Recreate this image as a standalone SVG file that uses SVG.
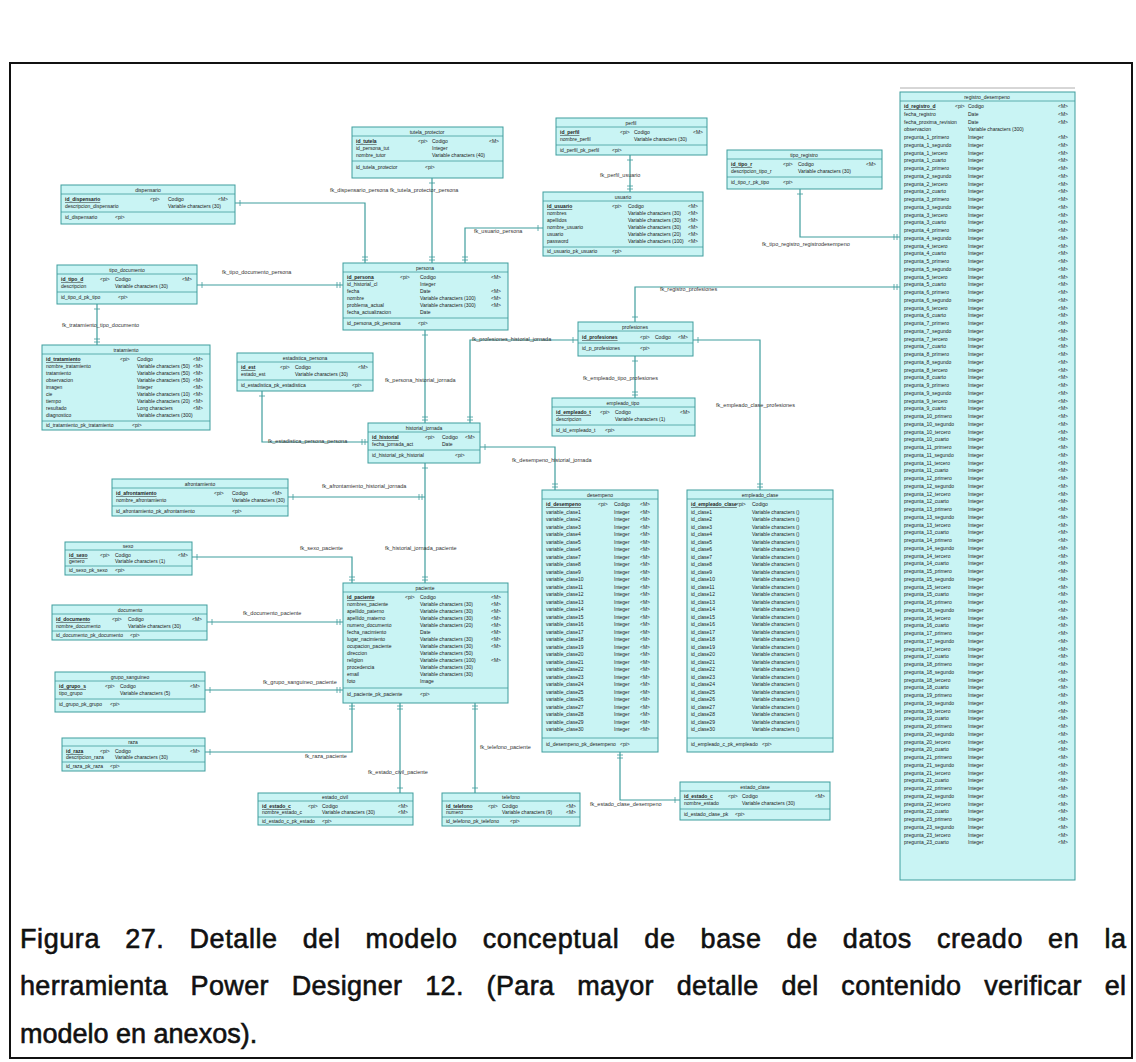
<svg xmlns="http://www.w3.org/2000/svg" width="1136" height="1062" viewBox="0 0 1136 1062">
<defs>
<marker id="te" markerUnits="userSpaceOnUse" markerWidth="12" markerHeight="12" refX="0" refY="0" viewBox="-10 -6 12 12" orient="auto" overflow="visible"><path d="M-6,-3 V3 M-3,-3 V3" fill="none" stroke="#3f9d9d" stroke-width="0.8"/></marker>
<marker id="ts" markerUnits="userSpaceOnUse" markerWidth="12" markerHeight="12" refX="0" refY="0" viewBox="-10 -6 12 12" orient="auto-start-reverse" overflow="visible"><path d="M-5,-3 V3" fill="none" stroke="#3f9d9d" stroke-width="0.8"/></marker>
</defs>
<style>
.e{fill:#c9f4f4;stroke:#3f9d9d;stroke-width:1}
.s{stroke:#3f9d9d;stroke-width:0.8}
.t{font-family:"Liberation Sans",sans-serif;font-size:5px;fill:#222;text-anchor:middle}
.r{font-family:"Liberation Sans",sans-serif;font-size:5px;fill:#222}
.p{font-family:"Liberation Sans",sans-serif;font-size:5px;fill:#222;text-decoration:underline;font-weight:bold}
.c path{fill:none;stroke:#3f9d9d;stroke-width:1.2;marker-start:url(#ts);marker-end:url(#te)}
.l{font-family:"Liberation Sans",sans-serif;font-size:5.5px;fill:#333}
.cap{font-family:"Liberation Sans",Arial,sans-serif;font-size:27px;fill:#111;stroke:#111;stroke-width:0.6}
</style>
<rect width="1136" height="1062" fill="#fff"/>
<rect x="10" y="63" width="1122" height="995" fill="none" stroke="#111" stroke-width="2"/>

<g class="c" id="connectors">
<path d="M432,178 V263"/>
<path d="M235,203 H365 V263"/>
<path d="M630,155 V192"/>
<path d="M543,228 H465 V263"/>
<path d="M800,189 V237 H900"/>
<path d="M197,285 H343"/>
<path d="M97,304 V345"/>
<path d="M425,330 V423"/>
<path d="M578,340 H470 V423"/>
<path d="M635,322 V287 H900"/>
<path d="M635,356 V398"/>
<path d="M693,340 H760 V490"/>
<path d="M262,391 V442 H368"/>
<path d="M288,497 H425"/>
<path d="M425,463 V583"/>
<path d="M480,447 H555 V490"/>
<path d="M192,557 H352 V583"/>
<path d="M207,622 H343"/>
<path d="M205,690 H343"/>
<path d="M205,752 H352 V703"/>
<path d="M400,793 V703"/>
<path d="M475,793 V703"/>
<path d="M680,800 H620 V752"/>
<text class="l" x="330" y="192">fk_dispensario_persona fk_tutela_protector_persona</text>
<text class="l" x="600" y="177">fk_perfil_usuario</text>
<text class="l" x="474" y="233">fk_usuario_persona</text>
<text class="l" x="762" y="246">fk_tipo_registro_registrodesempeno</text>
<text class="l" x="222" y="274">fk_tipo_documento_persona</text>
<text class="l" x="62" y="327">fk_tratamiento_tipo_documento</text>
<text class="l" x="385" y="382">fk_persona_historial_jornada</text>
<text class="l" x="472" y="341">fk_profesiones_historial_jornada</text>
<text class="l" x="660" y="291">fk_registro_profesiones</text>
<text class="l" x="583" y="380">fk_empleado_tipo_profesiones</text>
<text class="l" x="716" y="407">fk_empleado_clase_profesiones</text>
<text class="l" x="268" y="443">fk_estadistica_persona_persona</text>
<text class="l" x="322" y="488">fk_afrontamiento_historial_jornada</text>
<text class="l" x="512" y="462">fk_desempeno_historial_jornada</text>
<text class="l" x="385" y="550">fk_historial_jornada_paciente</text>
<text class="l" x="300" y="550">fk_sexo_paciente</text>
<text class="l" x="243" y="615">fk_documento_paciente</text>
<text class="l" x="263" y="684">fk_grupo_sanguineo_paciente</text>
<text class="l" x="305" y="758">fk_raza_paciente</text>
<text class="l" x="368" y="774">fk_estado_civil_paciente</text>
<text class="l" x="480" y="749">fk_telefono_paciente</text>
<text class="l" x="590" y="806">fk_estado_clase_desempeno</text>
</g>

<g id="tutela_protector">
<rect class="e" x="352" y="127" width="151" height="51"/>
<text class="t" x="427" y="134">tutela_protector</text>
<line class="s" x1="352" y1="136" x2="503" y2="136"/>
<text class="p" x="356" y="143">id_tutela</text><text class="r" x="418" y="143">&lt;pi&gt;</text><text class="r" x="432" y="143">Codigo</text><text class="r" x="489" y="143">&lt;M&gt;</text>
<text class="r" x="356" y="150">id_persona_tut</text><text class="r" x="432" y="150">Integer</text>
<text class="r" x="356" y="157">nombre_tutor</text><text class="r" x="432" y="157">Variable characters (40)</text>
<line class="s" x1="352" y1="161" x2="503" y2="161"/>
<text class="r" x="356" y="169">id_tutela_protector</text><text class="r" x="425" y="169">&lt;pi&gt;</text>
</g>

<g id="perfil">
<rect class="e" x="556" y="118" width="151" height="37"/>
<text class="t" x="631" y="125">perfil</text>
<line class="s" x1="556" y1="127" x2="707" y2="127"/>
<text class="p" x="560" y="134">id_perfil</text><text class="r" x="620" y="134">&lt;pi&gt;</text><text class="r" x="634" y="134">Codigo</text><text class="r" x="693" y="134">&lt;M&gt;</text>
<text class="r" x="560" y="141">nombre_perfil</text><text class="r" x="634" y="141">Variable characters (30)</text>
<line class="s" x1="556" y1="145" x2="707" y2="145"/>
<text class="r" x="560" y="152">id_perfil_pk_perfil</text><text class="r" x="612" y="152">&lt;pi&gt;</text>
</g>

<g id="usuario">
<rect class="e" x="543" y="192" width="160" height="64"/>
<text class="t" x="623" y="199">usuario</text>
<line class="s" x1="543" y1="201" x2="703" y2="201"/>
<text class="p" x="547" y="208">id_usuario</text><text class="r" x="612" y="208">&lt;pi&gt;</text><text class="r" x="628" y="208">Codigo</text><text class="r" x="688" y="208">&lt;M&gt;</text>
<text class="r" x="547" y="215">nombres</text><text class="r" x="628" y="215">Variable characters (30)</text><text class="r" x="688" y="215">&lt;M&gt;</text>
<text class="r" x="547" y="222">apellidos</text><text class="r" x="628" y="222">Variable characters (30)</text><text class="r" x="688" y="222">&lt;M&gt;</text>
<text class="r" x="547" y="229">nombre_usuario</text><text class="r" x="628" y="229">Variable characters (30)</text><text class="r" x="688" y="229">&lt;M&gt;</text>
<text class="r" x="547" y="236">usuario</text><text class="r" x="628" y="236">Variable characters (20)</text><text class="r" x="688" y="236">&lt;M&gt;</text>
<text class="r" x="547" y="243">password</text><text class="r" x="628" y="243">Variable characters (100)</text><text class="r" x="688" y="243">&lt;M&gt;</text>
<line class="s" x1="543" y1="247" x2="703" y2="247"/>
<text class="r" x="547" y="253">id_usuario_pk_usuario</text><text class="r" x="612" y="253">&lt;pi&gt;</text>
</g>

<g id="tipo_registro">
<rect class="e" x="727" y="150" width="155" height="39"/>
<text class="t" x="804" y="157">tipo_registro</text>
<line class="s" x1="727" y1="159" x2="882" y2="159"/>
<text class="p" x="731" y="166">id_tipo_r</text><text class="r" x="783" y="166">&lt;pi&gt;</text><text class="r" x="798" y="166">Codigo</text><text class="r" x="866" y="166">&lt;M&gt;</text>
<text class="r" x="731" y="173">descripcion_tipo_r</text><text class="r" x="798" y="173">Variable characters (30)</text>
<line class="s" x1="727" y1="177" x2="882" y2="177"/>
<text class="r" x="731" y="184">id_tipo_r_pk_tipo</text><text class="r" x="783" y="184">&lt;pi&gt;</text>
</g>

<g id="dispensario">
<rect class="e" x="61" y="185" width="174" height="39"/>
<text class="t" x="148" y="192">dispensario</text>
<line class="s" x1="61" y1="194" x2="235" y2="194"/>
<text class="p" x="65" y="201">id_dispensario</text><text class="r" x="150" y="201">&lt;pi&gt;</text><text class="r" x="168" y="201">Codigo</text><text class="r" x="218" y="201">&lt;M&gt;</text>
<text class="r" x="65" y="208">descripcion_dispensario</text><text class="r" x="168" y="208">Variable characters (30)</text>
<line class="s" x1="61" y1="212" x2="235" y2="212"/>
<text class="r" x="65" y="219">id_dispensario</text><text class="r" x="115" y="219">&lt;pi&gt;</text>
</g>

<g id="persona">
<rect class="e" x="343" y="263" width="165" height="67"/>
<text class="t" x="425" y="270">persona</text>
<line class="s" x1="343" y1="272" x2="508" y2="272"/>
<text class="p" x="347" y="279">id_persona</text><text class="r" x="400" y="279">&lt;pi&gt;</text><text class="r" x="420" y="279">Codigo</text><text class="r" x="491" y="279">&lt;M&gt;</text>
<text class="r" x="347" y="286">id_historial_cl</text><text class="r" x="420" y="286">Integer</text>
<text class="r" x="347" y="293">fecha</text><text class="r" x="420" y="293">Date</text><text class="r" x="491" y="293">&lt;M&gt;</text>
<text class="r" x="347" y="300">nombre</text><text class="r" x="420" y="300">Variable characters (100)</text><text class="r" x="491" y="300">&lt;M&gt;</text>
<text class="r" x="347" y="307">problema_actual</text><text class="r" x="420" y="307">Variable characters (300)</text><text class="r" x="491" y="307">&lt;M&gt;</text>
<text class="r" x="347" y="314">fecha_actualizacion</text><text class="r" x="420" y="314">Date</text>
<line class="s" x1="343" y1="318" x2="508" y2="318"/>
<text class="r" x="347" y="325">id_persona_pk_persona</text><text class="r" x="418" y="325">&lt;pi&gt;</text>
</g>

<g id="tipo_documento">
<rect class="e" x="57" y="265" width="140" height="39"/>
<text class="t" x="127" y="272">tipo_documento</text>
<line class="s" x1="57" y1="274" x2="197" y2="274"/>
<text class="p" x="61" y="281">id_tipo_d</text><text class="r" x="100" y="281">&lt;pi&gt;</text><text class="r" x="115" y="281">Codigo</text><text class="r" x="182" y="281">&lt;M&gt;</text>
<text class="r" x="61" y="288">descripcion</text><text class="r" x="115" y="288">Variable characters (30)</text>
<line class="s" x1="57" y1="292" x2="197" y2="292"/>
<text class="r" x="61" y="299">id_tipo_d_pk_tipo</text><text class="r" x="118" y="299">&lt;pi&gt;</text>
</g>

<g id="tratamiento">
<rect class="e" x="42" y="345" width="168" height="85"/>
<text class="t" x="126" y="352">tratamiento</text>
<line class="s" x1="42" y1="354" x2="210" y2="354"/>
<text class="p" x="46" y="361">id_tratamiento</text><text class="r" x="120" y="361">&lt;pi&gt;</text><text class="r" x="137" y="361">Codigo</text><text class="r" x="193" y="361">&lt;M&gt;</text>
<text class="r" x="46" y="368">nombre_tratamiento</text><text class="r" x="137" y="368">Variable characters (50)</text><text class="r" x="193" y="368">&lt;M&gt;</text>
<text class="r" x="46" y="375">tratamiento</text><text class="r" x="137" y="375">Variable characters (50)</text><text class="r" x="193" y="375">&lt;M&gt;</text>
<text class="r" x="46" y="382">observacion</text><text class="r" x="137" y="382">Variable characters (50)</text><text class="r" x="193" y="382">&lt;M&gt;</text>
<text class="r" x="46" y="389">imagen</text><text class="r" x="137" y="389">Integer</text><text class="r" x="193" y="389">&lt;M&gt;</text>
<text class="r" x="46" y="396">cie</text><text class="r" x="137" y="396">Variable characters (10)</text><text class="r" x="193" y="396">&lt;M&gt;</text>
<text class="r" x="46" y="403">tiempo</text><text class="r" x="137" y="403">Variable characters (20)</text><text class="r" x="193" y="403">&lt;M&gt;</text>
<text class="r" x="46" y="410">resultado</text><text class="r" x="137" y="410">Long characters</text><text class="r" x="193" y="410">&lt;M&gt;</text>
<text class="r" x="46" y="417">diagnostico</text><text class="r" x="137" y="417">Variable characters (300)</text>
<line class="s" x1="42" y1="421" x2="210" y2="421"/>
<text class="r" x="46" y="427">id_tratamiento_pk_tratamiento</text><text class="r" x="132" y="427">&lt;pi&gt;</text>
</g>

<g id="estadistica_persona">
<rect class="e" x="237" y="353" width="136" height="38"/>
<text class="t" x="305" y="360">estadistica_persona</text>
<line class="s" x1="237" y1="362" x2="373" y2="362"/>
<text class="p" x="241" y="369">id_est</text><text class="r" x="280" y="369">&lt;pi&gt;</text><text class="r" x="295" y="369">Codigo</text><text class="r" x="358" y="369">&lt;M&gt;</text>
<text class="r" x="241" y="376">estado_est</text><text class="r" x="295" y="376">Variable characters (30)</text>
<line class="s" x1="237" y1="380" x2="373" y2="380"/>
<text class="r" x="241" y="387">id_estadistica_pk_estadistica</text><text class="r" x="352" y="387">&lt;pi&gt;</text>
</g>

<g id="historial_jornada">
<rect class="e" x="368" y="423" width="112" height="40"/>
<text class="t" x="424" y="430">historial_jornada</text>
<line class="s" x1="368" y1="432" x2="480" y2="432"/>
<text class="p" x="372" y="439">id_historial</text><text class="r" x="425" y="439">&lt;pi&gt;</text><text class="r" x="442" y="439">Codigo</text><text class="r" x="465" y="439">&lt;M&gt;</text>
<text class="r" x="372" y="446">fecha_jornada_act</text><text class="r" x="442" y="446">Date</text>
<line class="s" x1="368" y1="450" x2="480" y2="450"/>
<text class="r" x="372" y="457">id_historial_pk_historial</text><text class="r" x="455" y="457">&lt;pi&gt;</text>
</g>

<g id="profesiones">
<rect class="e" x="578" y="322" width="115" height="34"/>
<text class="t" x="635" y="329">profesiones</text>
<line class="s" x1="578" y1="331" x2="693" y2="331"/>
<text class="p" x="582" y="339">id_profesiones</text><text class="r" x="640" y="339">&lt;pi&gt;</text><text class="r" x="655" y="339">Codigo</text><text class="r" x="678" y="339">&lt;M&gt;</text>
<line class="s" x1="578" y1="343" x2="693" y2="343"/>
<text class="r" x="582" y="350">id_p_profesiones</text><text class="r" x="640" y="350">&lt;pi&gt;</text>
</g>

<g id="empleado_tipo">
<rect class="e" x="552" y="398" width="143" height="38"/>
<text class="t" x="623" y="405">empleado_tipo</text>
<line class="s" x1="552" y1="407" x2="695" y2="407"/>
<text class="p" x="556" y="414">id_empleado_t</text><text class="r" x="600" y="414">&lt;pi&gt;</text><text class="r" x="615" y="414">Codigo</text><text class="r" x="680" y="414">&lt;M&gt;</text>
<text class="r" x="556" y="421">descripcion</text><text class="r" x="615" y="421">Variable characters (1)</text>
<line class="s" x1="552" y1="425" x2="695" y2="425"/>
<text class="r" x="556" y="432">id_id_empleado_t</text><text class="r" x="605" y="432">&lt;pi&gt;</text>
</g>

<g id="afrontamiento">
<rect class="e" x="112" y="479" width="176" height="37"/>
<text class="t" x="200" y="486">afrontamiento</text>
<line class="s" x1="112" y1="488" x2="288" y2="488"/>
<text class="p" x="116" y="495">id_afrontamiento</text><text class="r" x="214" y="495">&lt;pi&gt;</text><text class="r" x="232" y="495">Codigo</text><text class="r" x="272" y="495">&lt;M&gt;</text>
<text class="r" x="116" y="502">nombre_afrontamiento</text><text class="r" x="232" y="502">Variable characters (30)</text>
<line class="s" x1="112" y1="506" x2="288" y2="506"/>
<text class="r" x="116" y="513">id_afrontamiento_pk_afrontamiento</text><text class="r" x="232" y="513">&lt;pi&gt;</text>
</g>

<g id="paciente">
<rect class="e" x="343" y="583" width="165" height="120"/>
<text class="t" x="425" y="590">paciente</text>
<line class="s" x1="343" y1="592" x2="508" y2="592"/>
<text class="p" x="347" y="599">id_paciente</text><text class="r" x="405" y="599">&lt;pi&gt;</text><text class="r" x="420" y="599">Codigo</text><text class="r" x="491" y="599">&lt;M&gt;</text>
<text class="r" x="347" y="606">nombres_paciente</text><text class="r" x="420" y="606">Variable characters (30)</text><text class="r" x="491" y="606">&lt;M&gt;</text>
<text class="r" x="347" y="613">apellido_paterno</text><text class="r" x="420" y="613">Variable characters (30)</text><text class="r" x="491" y="613">&lt;M&gt;</text>
<text class="r" x="347" y="620">apellido_materno</text><text class="r" x="420" y="620">Variable characters (30)</text><text class="r" x="491" y="620">&lt;M&gt;</text>
<text class="r" x="347" y="627">numero_documento</text><text class="r" x="420" y="627">Variable characters (20)</text><text class="r" x="491" y="627">&lt;M&gt;</text>
<text class="r" x="347" y="634">fecha_nacimiento</text><text class="r" x="420" y="634">Date</text><text class="r" x="491" y="634">&lt;M&gt;</text>
<text class="r" x="347" y="641">lugar_nacimiento</text><text class="r" x="420" y="641">Variable characters (30)</text><text class="r" x="491" y="641">&lt;M&gt;</text>
<text class="r" x="347" y="648">ocupacion_paciente</text><text class="r" x="420" y="648">Variable characters (30)</text><text class="r" x="491" y="648">&lt;M&gt;</text>
<text class="r" x="347" y="655">direccion</text><text class="r" x="420" y="655">Variable characters (50)</text>
<text class="r" x="347" y="662">religion</text><text class="r" x="420" y="662">Variable characters (100)</text><text class="r" x="491" y="662">&lt;M&gt;</text>
<text class="r" x="347" y="669">procedencia</text><text class="r" x="420" y="669">Variable characters (30)</text>
<text class="r" x="347" y="676">email</text><text class="r" x="420" y="676">Variable characters (30)</text>
<text class="r" x="347" y="683">foto</text><text class="r" x="420" y="683">Image</text>
<line class="s" x1="343" y1="688" x2="508" y2="688"/>
<text class="r" x="347" y="696">id_paciente_pk_paciente</text><text class="r" x="420" y="696">&lt;pi&gt;</text>
</g>

<g id="sexo">
<rect class="e" x="65" y="542" width="127" height="33"/>
<text class="t" x="128" y="548">sexo</text>
<line class="s" x1="65" y1="550" x2="192" y2="550"/>
<text class="p" x="69" y="557">id_sexo</text><text class="r" x="100" y="557">&lt;pi&gt;</text><text class="r" x="115" y="557">Codigo</text><text class="r" x="178" y="557">&lt;M&gt;</text>
<text class="r" x="69" y="563">genero</text><text class="r" x="115" y="563">Variable characters (1)</text>
<line class="s" x1="65" y1="566" x2="192" y2="566"/>
<text class="r" x="69" y="572">id_sexo_pk_sexo</text><text class="r" x="115" y="572">&lt;pi&gt;</text>
</g>

<g id="documento">
<rect class="e" x="52" y="605" width="155" height="35"/>
<text class="t" x="130" y="612">documento</text>
<line class="s" x1="52" y1="614" x2="207" y2="614"/>
<text class="p" x="56" y="621">id_documento</text><text class="r" x="112" y="621">&lt;pi&gt;</text><text class="r" x="128" y="621">Codigo</text><text class="r" x="192" y="621">&lt;M&gt;</text>
<text class="r" x="56" y="628">nombre_documento</text><text class="r" x="128" y="628">Variable characters (30)</text>
<line class="s" x1="52" y1="631" x2="207" y2="631"/>
<text class="r" x="56" y="637">id_documento_pk_documento</text><text class="r" x="130" y="637">&lt;pi&gt;</text>
</g>

<g id="grupo_sanguineo">
<rect class="e" x="55" y="672" width="150" height="40"/>
<text class="t" x="130" y="679">grupo_sanguineo</text>
<line class="s" x1="55" y1="681" x2="205" y2="681"/>
<text class="p" x="59" y="688">id_grupo_s</text><text class="r" x="105" y="688">&lt;pi&gt;</text><text class="r" x="120" y="688">Codigo</text><text class="r" x="190" y="688">&lt;M&gt;</text>
<text class="r" x="59" y="695">tipo_grupo</text><text class="r" x="120" y="695">Variable characters (5)</text>
<line class="s" x1="55" y1="699" x2="205" y2="699"/>
<text class="r" x="59" y="706">id_grupo_pk_grupo</text><text class="r" x="110" y="706">&lt;pi&gt;</text>
</g>

<g id="raza">
<rect class="e" x="62" y="738" width="143" height="33"/>
<text class="t" x="133" y="744">raza</text>
<line class="s" x1="62" y1="746" x2="205" y2="746"/>
<text class="p" x="66" y="753">id_raza</text><text class="r" x="100" y="753">&lt;pi&gt;</text><text class="r" x="115" y="753">Codigo</text><text class="r" x="190" y="753">&lt;M&gt;</text>
<text class="r" x="66" y="759">descripcion_raza</text><text class="r" x="115" y="759">Variable characters (30)</text>
<line class="s" x1="62" y1="762" x2="205" y2="762"/>
<text class="r" x="66" y="768">id_raza_pk_raza</text><text class="r" x="110" y="768">&lt;pi&gt;</text>
</g>

<g id="estado_civil">
<rect class="e" x="258" y="793" width="155" height="32"/>
<text class="t" x="335" y="799">estado_civil</text>
<line class="s" x1="258" y1="801" x2="413" y2="801"/>
<text class="p" x="262" y="808">id_estado_c</text><text class="r" x="308" y="808">&lt;pi&gt;</text><text class="r" x="322" y="808">Codigo</text><text class="r" x="398" y="808">&lt;M&gt;</text>
<text class="r" x="262" y="814">nombre_estado_c</text><text class="r" x="322" y="814">Variable characters (30)</text><text class="r" x="398" y="814">&lt;M&gt;</text>
<line class="s" x1="258" y1="817" x2="413" y2="817"/>
<text class="r" x="262" y="823">id_estado_c_pk_estado</text><text class="r" x="322" y="823">&lt;pi&gt;</text>
</g>

<g id="telefono">
<rect class="e" x="442" y="793" width="138" height="33"/>
<text class="t" x="511" y="799">telefono</text>
<line class="s" x1="442" y1="801" x2="580" y2="801"/>
<text class="p" x="446" y="808">id_telefono</text><text class="r" x="488" y="808">&lt;pi&gt;</text><text class="r" x="502" y="808">Codigo</text><text class="r" x="566" y="808">&lt;M&gt;</text>
<text class="r" x="446" y="814">numero</text><text class="r" x="502" y="814">Variable characters (9)</text><text class="r" x="566" y="814">&lt;M&gt;</text>
<line class="s" x1="442" y1="817" x2="580" y2="817"/>
<text class="r" x="446" y="823">id_telefono_pk_telefono</text><text class="r" x="510" y="823">&lt;pi&gt;</text>
</g>

<g id="estado_clase">
<rect class="e" x="680" y="782" width="150" height="38"/>
<text class="t" x="755" y="789">estado_clase</text>
<line class="s" x1="680" y1="791" x2="830" y2="791"/>
<text class="p" x="684" y="798">id_estado_c</text><text class="r" x="728" y="798">&lt;pi&gt;</text><text class="r" x="742" y="798">Codigo</text><text class="r" x="815" y="798">&lt;M&gt;</text>
<text class="r" x="684" y="805">nombre_estado</text><text class="r" x="742" y="805">Variable characters (30)</text>
<line class="s" x1="680" y1="809" x2="830" y2="809"/>
<text class="r" x="684" y="816">id_estado_clase_pk</text><text class="r" x="735" y="816">&lt;pi&gt;</text>
</g>

<g id="desempeno">
<rect class="e" x="542" y="490" width="116" height="262"/>
<text class="t" x="600" y="497">desempeno</text>
<line class="s" x1="542" y1="499" x2="658" y2="499"/>
<text class="p" x="546" y="506">id_desempeno</text><text class="r" x="598" y="506">&lt;pi&gt;</text><text class="r" x="614" y="506">Codigo</text><text class="r" x="640" y="506">&lt;M&gt;</text>
<text class="r" x="546" y="513.5"><tspan x="546">variable_clase1</tspan><tspan x="546" dy="7.5">variable_clase2</tspan><tspan x="546" dy="7.5">variable_clase3</tspan><tspan x="546" dy="7.5">variable_clase4</tspan><tspan x="546" dy="7.5">variable_clase5</tspan><tspan x="546" dy="7.5">variable_clase6</tspan><tspan x="546" dy="7.5">variable_clase7</tspan><tspan x="546" dy="7.5">variable_clase8</tspan><tspan x="546" dy="7.5">variable_clase9</tspan><tspan x="546" dy="7.5">variable_clase10</tspan><tspan x="546" dy="7.5">variable_clase11</tspan><tspan x="546" dy="7.5">variable_clase12</tspan><tspan x="546" dy="7.5">variable_clase13</tspan><tspan x="546" dy="7.5">variable_clase14</tspan><tspan x="546" dy="7.5">variable_clase15</tspan><tspan x="546" dy="7.5">variable_clase16</tspan><tspan x="546" dy="7.5">variable_clase17</tspan><tspan x="546" dy="7.5">variable_clase18</tspan><tspan x="546" dy="7.5">variable_clase19</tspan><tspan x="546" dy="7.5">variable_clase20</tspan><tspan x="546" dy="7.5">variable_clase21</tspan><tspan x="546" dy="7.5">variable_clase22</tspan><tspan x="546" dy="7.5">variable_clase23</tspan><tspan x="546" dy="7.5">variable_clase24</tspan><tspan x="546" dy="7.5">variable_clase25</tspan><tspan x="546" dy="7.5">variable_clase26</tspan><tspan x="546" dy="7.5">variable_clase27</tspan><tspan x="546" dy="7.5">variable_clase28</tspan><tspan x="546" dy="7.5">variable_clase29</tspan><tspan x="546" dy="7.5">variable_clase30</tspan></text>
<text class="r" x="614" y="513.5"><tspan x="614">Integer</tspan><tspan x="614" dy="7.5">Integer</tspan><tspan x="614" dy="7.5">Integer</tspan><tspan x="614" dy="7.5">Integer</tspan><tspan x="614" dy="7.5">Integer</tspan><tspan x="614" dy="7.5">Integer</tspan><tspan x="614" dy="7.5">Integer</tspan><tspan x="614" dy="7.5">Integer</tspan><tspan x="614" dy="7.5">Integer</tspan><tspan x="614" dy="7.5">Integer</tspan><tspan x="614" dy="7.5">Integer</tspan><tspan x="614" dy="7.5">Integer</tspan><tspan x="614" dy="7.5">Integer</tspan><tspan x="614" dy="7.5">Integer</tspan><tspan x="614" dy="7.5">Integer</tspan><tspan x="614" dy="7.5">Integer</tspan><tspan x="614" dy="7.5">Integer</tspan><tspan x="614" dy="7.5">Integer</tspan><tspan x="614" dy="7.5">Integer</tspan><tspan x="614" dy="7.5">Integer</tspan><tspan x="614" dy="7.5">Integer</tspan><tspan x="614" dy="7.5">Integer</tspan><tspan x="614" dy="7.5">Integer</tspan><tspan x="614" dy="7.5">Integer</tspan><tspan x="614" dy="7.5">Integer</tspan><tspan x="614" dy="7.5">Integer</tspan><tspan x="614" dy="7.5">Integer</tspan><tspan x="614" dy="7.5">Integer</tspan><tspan x="614" dy="7.5">Integer</tspan><tspan x="614" dy="7.5">Integer</tspan></text>
<text class="r" x="640" y="513.5"><tspan x="640">&lt;M&gt;</tspan><tspan x="640" dy="7.5">&lt;M&gt;</tspan><tspan x="640" dy="7.5">&lt;M&gt;</tspan><tspan x="640" dy="7.5">&lt;M&gt;</tspan><tspan x="640" dy="7.5">&lt;M&gt;</tspan><tspan x="640" dy="7.5">&lt;M&gt;</tspan><tspan x="640" dy="7.5">&lt;M&gt;</tspan><tspan x="640" dy="7.5">&lt;M&gt;</tspan><tspan x="640" dy="7.5">&lt;M&gt;</tspan><tspan x="640" dy="7.5">&lt;M&gt;</tspan><tspan x="640" dy="7.5">&lt;M&gt;</tspan><tspan x="640" dy="7.5">&lt;M&gt;</tspan><tspan x="640" dy="7.5">&lt;M&gt;</tspan><tspan x="640" dy="7.5">&lt;M&gt;</tspan><tspan x="640" dy="7.5">&lt;M&gt;</tspan><tspan x="640" dy="7.5">&lt;M&gt;</tspan><tspan x="640" dy="7.5">&lt;M&gt;</tspan><tspan x="640" dy="7.5">&lt;M&gt;</tspan><tspan x="640" dy="7.5">&lt;M&gt;</tspan><tspan x="640" dy="7.5">&lt;M&gt;</tspan><tspan x="640" dy="7.5">&lt;M&gt;</tspan><tspan x="640" dy="7.5">&lt;M&gt;</tspan><tspan x="640" dy="7.5">&lt;M&gt;</tspan><tspan x="640" dy="7.5">&lt;M&gt;</tspan><tspan x="640" dy="7.5">&lt;M&gt;</tspan><tspan x="640" dy="7.5">&lt;M&gt;</tspan><tspan x="640" dy="7.5">&lt;M&gt;</tspan><tspan x="640" dy="7.5">&lt;M&gt;</tspan><tspan x="640" dy="7.5">&lt;M&gt;</tspan><tspan x="640" dy="7.5">&lt;M&gt;</tspan></text>
<line class="s" x1="542" y1="738" x2="658" y2="738"/>
<text class="r" x="546" y="746">id_desempeno_pk_desempeno</text><text class="r" x="620" y="746">&lt;pi&gt;</text>
</g>

<g id="empleado_clase">
<rect class="e" x="687" y="490" width="146" height="262"/>
<text class="t" x="760" y="497">empleado_clase</text>
<line class="s" x1="687" y1="499" x2="833" y2="499"/>
<text class="p" x="691" y="506">id_empleado_clase</text><text class="r" x="736" y="506">&lt;pi&gt;</text><text class="r" x="752" y="506">Codigo</text>
<text class="r" x="691" y="513.5"><tspan x="691">id_clase1</tspan><tspan x="691" dy="7.5">id_clase2</tspan><tspan x="691" dy="7.5">id_clase3</tspan><tspan x="691" dy="7.5">id_clase4</tspan><tspan x="691" dy="7.5">id_clase5</tspan><tspan x="691" dy="7.5">id_clase6</tspan><tspan x="691" dy="7.5">id_clase7</tspan><tspan x="691" dy="7.5">id_clase8</tspan><tspan x="691" dy="7.5">id_clase9</tspan><tspan x="691" dy="7.5">id_clase10</tspan><tspan x="691" dy="7.5">id_clase11</tspan><tspan x="691" dy="7.5">id_clase12</tspan><tspan x="691" dy="7.5">id_clase13</tspan><tspan x="691" dy="7.5">id_clase14</tspan><tspan x="691" dy="7.5">id_clase15</tspan><tspan x="691" dy="7.5">id_clase16</tspan><tspan x="691" dy="7.5">id_clase17</tspan><tspan x="691" dy="7.5">id_clase18</tspan><tspan x="691" dy="7.5">id_clase19</tspan><tspan x="691" dy="7.5">id_clase20</tspan><tspan x="691" dy="7.5">id_clase21</tspan><tspan x="691" dy="7.5">id_clase22</tspan><tspan x="691" dy="7.5">id_clase23</tspan><tspan x="691" dy="7.5">id_clase24</tspan><tspan x="691" dy="7.5">id_clase25</tspan><tspan x="691" dy="7.5">id_clase26</tspan><tspan x="691" dy="7.5">id_clase27</tspan><tspan x="691" dy="7.5">id_clase28</tspan><tspan x="691" dy="7.5">id_clase29</tspan><tspan x="691" dy="7.5">id_clase30</tspan></text>
<text class="r" x="752" y="513.5"><tspan x="752">Variable characters ()</tspan><tspan x="752" dy="7.5">Variable characters ()</tspan><tspan x="752" dy="7.5">Variable characters ()</tspan><tspan x="752" dy="7.5">Variable characters ()</tspan><tspan x="752" dy="7.5">Variable characters ()</tspan><tspan x="752" dy="7.5">Variable characters ()</tspan><tspan x="752" dy="7.5">Variable characters ()</tspan><tspan x="752" dy="7.5">Variable characters ()</tspan><tspan x="752" dy="7.5">Variable characters ()</tspan><tspan x="752" dy="7.5">Variable characters ()</tspan><tspan x="752" dy="7.5">Variable characters ()</tspan><tspan x="752" dy="7.5">Variable characters ()</tspan><tspan x="752" dy="7.5">Variable characters ()</tspan><tspan x="752" dy="7.5">Variable characters ()</tspan><tspan x="752" dy="7.5">Variable characters ()</tspan><tspan x="752" dy="7.5">Variable characters ()</tspan><tspan x="752" dy="7.5">Variable characters ()</tspan><tspan x="752" dy="7.5">Variable characters ()</tspan><tspan x="752" dy="7.5">Variable characters ()</tspan><tspan x="752" dy="7.5">Variable characters ()</tspan><tspan x="752" dy="7.5">Variable characters ()</tspan><tspan x="752" dy="7.5">Variable characters ()</tspan><tspan x="752" dy="7.5">Variable characters ()</tspan><tspan x="752" dy="7.5">Variable characters ()</tspan><tspan x="752" dy="7.5">Variable characters ()</tspan><tspan x="752" dy="7.5">Variable characters ()</tspan><tspan x="752" dy="7.5">Variable characters ()</tspan><tspan x="752" dy="7.5">Variable characters ()</tspan><tspan x="752" dy="7.5">Variable characters ()</tspan><tspan x="752" dy="7.5">Variable characters ()</tspan></text>
<line class="s" x1="687" y1="738" x2="833" y2="738"/>
<text class="r" x="691" y="746">id_empleado_c_pk_empleado</text><text class="r" x="762" y="746">&lt;pi&gt;</text>
</g>

<g id="registro_desempeno">
<line x1="900" y1="88" x2="1075" y2="88" stroke="#999" stroke-width="0.8"/>
<rect class="e" x="900" y="92" width="175" height="788"/>
<text class="t" x="987" y="99">registro_desempeno</text>
<line class="s" x1="900" y1="101" x2="1075" y2="101"/>
<text class="p" x="904" y="108">id_registro_d</text><text class="r" x="955" y="108">&lt;pi&gt;</text><text class="r" x="968" y="108">Codigo</text><text class="r" x="1058" y="108">&lt;M&gt;</text>
<text class="r" x="904" y="115.75">fecha_registro</text><text class="r" x="968" y="115.75">Date</text><text class="r" x="1058" y="115.75">&lt;M&gt;</text>
<text class="r" x="904" y="123.5">fecha_proxima_revision</text><text class="r" x="968" y="123.5">Date</text><text class="r" x="1058" y="123.5">&lt;M&gt;</text>
<text class="r" x="904" y="131.25">observacion</text><text class="r" x="968" y="131.25">Variable characters (300)</text>
<text class="r" x="904" y="139"><tspan x="904">pregunta_1_primero</tspan><tspan x="904" dy="7.75">pregunta_1_segundo</tspan><tspan x="904" dy="7.75">pregunta_1_tercero</tspan><tspan x="904" dy="7.75">pregunta_1_cuarto</tspan><tspan x="904" dy="7.75">pregunta_2_primero</tspan><tspan x="904" dy="7.75">pregunta_2_segundo</tspan><tspan x="904" dy="7.75">pregunta_2_tercero</tspan><tspan x="904" dy="7.75">pregunta_2_cuarto</tspan><tspan x="904" dy="7.75">pregunta_3_primero</tspan><tspan x="904" dy="7.75">pregunta_3_segundo</tspan><tspan x="904" dy="7.75">pregunta_3_tercero</tspan><tspan x="904" dy="7.75">pregunta_3_cuarto</tspan><tspan x="904" dy="7.75">pregunta_4_primero</tspan><tspan x="904" dy="7.75">pregunta_4_segundo</tspan><tspan x="904" dy="7.75">pregunta_4_tercero</tspan><tspan x="904" dy="7.75">pregunta_4_cuarto</tspan><tspan x="904" dy="7.75">pregunta_5_primero</tspan><tspan x="904" dy="7.75">pregunta_5_segundo</tspan><tspan x="904" dy="7.75">pregunta_5_tercero</tspan><tspan x="904" dy="7.75">pregunta_5_cuarto</tspan><tspan x="904" dy="7.75">pregunta_6_primero</tspan><tspan x="904" dy="7.75">pregunta_6_segundo</tspan><tspan x="904" dy="7.75">pregunta_6_tercero</tspan><tspan x="904" dy="7.75">pregunta_6_cuarto</tspan><tspan x="904" dy="7.75">pregunta_7_primero</tspan><tspan x="904" dy="7.75">pregunta_7_segundo</tspan><tspan x="904" dy="7.75">pregunta_7_tercero</tspan><tspan x="904" dy="7.75">pregunta_7_cuarto</tspan><tspan x="904" dy="7.75">pregunta_8_primero</tspan><tspan x="904" dy="7.75">pregunta_8_segundo</tspan><tspan x="904" dy="7.75">pregunta_8_tercero</tspan><tspan x="904" dy="7.75">pregunta_8_cuarto</tspan><tspan x="904" dy="7.75">pregunta_9_primero</tspan><tspan x="904" dy="7.75">pregunta_9_segundo</tspan><tspan x="904" dy="7.75">pregunta_9_tercero</tspan><tspan x="904" dy="7.75">pregunta_9_cuarto</tspan><tspan x="904" dy="7.75">pregunta_10_primero</tspan><tspan x="904" dy="7.75">pregunta_10_segundo</tspan><tspan x="904" dy="7.75">pregunta_10_tercero</tspan><tspan x="904" dy="7.75">pregunta_10_cuarto</tspan><tspan x="904" dy="7.75">pregunta_11_primero</tspan><tspan x="904" dy="7.75">pregunta_11_segundo</tspan><tspan x="904" dy="7.75">pregunta_11_tercero</tspan><tspan x="904" dy="7.75">pregunta_11_cuarto</tspan><tspan x="904" dy="7.75">pregunta_12_primero</tspan><tspan x="904" dy="7.75">pregunta_12_segundo</tspan><tspan x="904" dy="7.75">pregunta_12_tercero</tspan><tspan x="904" dy="7.75">pregunta_12_cuarto</tspan><tspan x="904" dy="7.75">pregunta_13_primero</tspan><tspan x="904" dy="7.75">pregunta_13_segundo</tspan><tspan x="904" dy="7.75">pregunta_13_tercero</tspan><tspan x="904" dy="7.75">pregunta_13_cuarto</tspan><tspan x="904" dy="7.75">pregunta_14_primero</tspan><tspan x="904" dy="7.75">pregunta_14_segundo</tspan><tspan x="904" dy="7.75">pregunta_14_tercero</tspan><tspan x="904" dy="7.75">pregunta_14_cuarto</tspan><tspan x="904" dy="7.75">pregunta_15_primero</tspan><tspan x="904" dy="7.75">pregunta_15_segundo</tspan><tspan x="904" dy="7.75">pregunta_15_tercero</tspan><tspan x="904" dy="7.75">pregunta_15_cuarto</tspan><tspan x="904" dy="7.75">pregunta_16_primero</tspan><tspan x="904" dy="7.75">pregunta_16_segundo</tspan><tspan x="904" dy="7.75">pregunta_16_tercero</tspan><tspan x="904" dy="7.75">pregunta_16_cuarto</tspan><tspan x="904" dy="7.75">pregunta_17_primero</tspan><tspan x="904" dy="7.75">pregunta_17_segundo</tspan><tspan x="904" dy="7.75">pregunta_17_tercero</tspan><tspan x="904" dy="7.75">pregunta_17_cuarto</tspan><tspan x="904" dy="7.75">pregunta_18_primero</tspan><tspan x="904" dy="7.75">pregunta_18_segundo</tspan><tspan x="904" dy="7.75">pregunta_18_tercero</tspan><tspan x="904" dy="7.75">pregunta_18_cuarto</tspan><tspan x="904" dy="7.75">pregunta_19_primero</tspan><tspan x="904" dy="7.75">pregunta_19_segundo</tspan><tspan x="904" dy="7.75">pregunta_19_tercero</tspan><tspan x="904" dy="7.75">pregunta_19_cuarto</tspan><tspan x="904" dy="7.75">pregunta_20_primero</tspan><tspan x="904" dy="7.75">pregunta_20_segundo</tspan><tspan x="904" dy="7.75">pregunta_20_tercero</tspan><tspan x="904" dy="7.75">pregunta_20_cuarto</tspan><tspan x="904" dy="7.75">pregunta_21_primero</tspan><tspan x="904" dy="7.75">pregunta_21_segundo</tspan><tspan x="904" dy="7.75">pregunta_21_tercero</tspan><tspan x="904" dy="7.75">pregunta_21_cuarto</tspan><tspan x="904" dy="7.75">pregunta_22_primero</tspan><tspan x="904" dy="7.75">pregunta_22_segundo</tspan><tspan x="904" dy="7.75">pregunta_22_tercero</tspan><tspan x="904" dy="7.75">pregunta_22_cuarto</tspan><tspan x="904" dy="7.75">pregunta_23_primero</tspan><tspan x="904" dy="7.75">pregunta_23_segundo</tspan><tspan x="904" dy="7.75">pregunta_23_tercero</tspan><tspan x="904" dy="7.75">pregunta_23_cuarto</tspan></text>
<text class="r" x="968" y="139"><tspan x="968">Integer</tspan><tspan x="968" dy="7.75">Integer</tspan><tspan x="968" dy="7.75">Integer</tspan><tspan x="968" dy="7.75">Integer</tspan><tspan x="968" dy="7.75">Integer</tspan><tspan x="968" dy="7.75">Integer</tspan><tspan x="968" dy="7.75">Integer</tspan><tspan x="968" dy="7.75">Integer</tspan><tspan x="968" dy="7.75">Integer</tspan><tspan x="968" dy="7.75">Integer</tspan><tspan x="968" dy="7.75">Integer</tspan><tspan x="968" dy="7.75">Integer</tspan><tspan x="968" dy="7.75">Integer</tspan><tspan x="968" dy="7.75">Integer</tspan><tspan x="968" dy="7.75">Integer</tspan><tspan x="968" dy="7.75">Integer</tspan><tspan x="968" dy="7.75">Integer</tspan><tspan x="968" dy="7.75">Integer</tspan><tspan x="968" dy="7.75">Integer</tspan><tspan x="968" dy="7.75">Integer</tspan><tspan x="968" dy="7.75">Integer</tspan><tspan x="968" dy="7.75">Integer</tspan><tspan x="968" dy="7.75">Integer</tspan><tspan x="968" dy="7.75">Integer</tspan><tspan x="968" dy="7.75">Integer</tspan><tspan x="968" dy="7.75">Integer</tspan><tspan x="968" dy="7.75">Integer</tspan><tspan x="968" dy="7.75">Integer</tspan><tspan x="968" dy="7.75">Integer</tspan><tspan x="968" dy="7.75">Integer</tspan><tspan x="968" dy="7.75">Integer</tspan><tspan x="968" dy="7.75">Integer</tspan><tspan x="968" dy="7.75">Integer</tspan><tspan x="968" dy="7.75">Integer</tspan><tspan x="968" dy="7.75">Integer</tspan><tspan x="968" dy="7.75">Integer</tspan><tspan x="968" dy="7.75">Integer</tspan><tspan x="968" dy="7.75">Integer</tspan><tspan x="968" dy="7.75">Integer</tspan><tspan x="968" dy="7.75">Integer</tspan><tspan x="968" dy="7.75">Integer</tspan><tspan x="968" dy="7.75">Integer</tspan><tspan x="968" dy="7.75">Integer</tspan><tspan x="968" dy="7.75">Integer</tspan><tspan x="968" dy="7.75">Integer</tspan><tspan x="968" dy="7.75">Integer</tspan><tspan x="968" dy="7.75">Integer</tspan><tspan x="968" dy="7.75">Integer</tspan><tspan x="968" dy="7.75">Integer</tspan><tspan x="968" dy="7.75">Integer</tspan><tspan x="968" dy="7.75">Integer</tspan><tspan x="968" dy="7.75">Integer</tspan><tspan x="968" dy="7.75">Integer</tspan><tspan x="968" dy="7.75">Integer</tspan><tspan x="968" dy="7.75">Integer</tspan><tspan x="968" dy="7.75">Integer</tspan><tspan x="968" dy="7.75">Integer</tspan><tspan x="968" dy="7.75">Integer</tspan><tspan x="968" dy="7.75">Integer</tspan><tspan x="968" dy="7.75">Integer</tspan><tspan x="968" dy="7.75">Integer</tspan><tspan x="968" dy="7.75">Integer</tspan><tspan x="968" dy="7.75">Integer</tspan><tspan x="968" dy="7.75">Integer</tspan><tspan x="968" dy="7.75">Integer</tspan><tspan x="968" dy="7.75">Integer</tspan><tspan x="968" dy="7.75">Integer</tspan><tspan x="968" dy="7.75">Integer</tspan><tspan x="968" dy="7.75">Integer</tspan><tspan x="968" dy="7.75">Integer</tspan><tspan x="968" dy="7.75">Integer</tspan><tspan x="968" dy="7.75">Integer</tspan><tspan x="968" dy="7.75">Integer</tspan><tspan x="968" dy="7.75">Integer</tspan><tspan x="968" dy="7.75">Integer</tspan><tspan x="968" dy="7.75">Integer</tspan><tspan x="968" dy="7.75">Integer</tspan><tspan x="968" dy="7.75">Integer</tspan><tspan x="968" dy="7.75">Integer</tspan><tspan x="968" dy="7.75">Integer</tspan><tspan x="968" dy="7.75">Integer</tspan><tspan x="968" dy="7.75">Integer</tspan><tspan x="968" dy="7.75">Integer</tspan><tspan x="968" dy="7.75">Integer</tspan><tspan x="968" dy="7.75">Integer</tspan><tspan x="968" dy="7.75">Integer</tspan><tspan x="968" dy="7.75">Integer</tspan><tspan x="968" dy="7.75">Integer</tspan><tspan x="968" dy="7.75">Integer</tspan><tspan x="968" dy="7.75">Integer</tspan><tspan x="968" dy="7.75">Integer</tspan><tspan x="968" dy="7.75">Integer</tspan></text>
<text class="r" x="1058" y="139"><tspan x="1058">&lt;M&gt;</tspan><tspan x="1058" dy="7.75">&lt;M&gt;</tspan><tspan x="1058" dy="7.75">&lt;M&gt;</tspan><tspan x="1058" dy="7.75">&lt;M&gt;</tspan><tspan x="1058" dy="7.75">&lt;M&gt;</tspan><tspan x="1058" dy="7.75">&lt;M&gt;</tspan><tspan x="1058" dy="7.75">&lt;M&gt;</tspan><tspan x="1058" dy="7.75">&lt;M&gt;</tspan><tspan x="1058" dy="7.75">&lt;M&gt;</tspan><tspan x="1058" dy="7.75">&lt;M&gt;</tspan><tspan x="1058" dy="7.75">&lt;M&gt;</tspan><tspan x="1058" dy="7.75">&lt;M&gt;</tspan><tspan x="1058" dy="7.75">&lt;M&gt;</tspan><tspan x="1058" dy="7.75">&lt;M&gt;</tspan><tspan x="1058" dy="7.75">&lt;M&gt;</tspan><tspan x="1058" dy="7.75">&lt;M&gt;</tspan><tspan x="1058" dy="7.75">&lt;M&gt;</tspan><tspan x="1058" dy="7.75">&lt;M&gt;</tspan><tspan x="1058" dy="7.75">&lt;M&gt;</tspan><tspan x="1058" dy="7.75">&lt;M&gt;</tspan><tspan x="1058" dy="7.75">&lt;M&gt;</tspan><tspan x="1058" dy="7.75">&lt;M&gt;</tspan><tspan x="1058" dy="7.75">&lt;M&gt;</tspan><tspan x="1058" dy="7.75">&lt;M&gt;</tspan><tspan x="1058" dy="7.75">&lt;M&gt;</tspan><tspan x="1058" dy="7.75">&lt;M&gt;</tspan><tspan x="1058" dy="7.75">&lt;M&gt;</tspan><tspan x="1058" dy="7.75">&lt;M&gt;</tspan><tspan x="1058" dy="7.75">&lt;M&gt;</tspan><tspan x="1058" dy="7.75">&lt;M&gt;</tspan><tspan x="1058" dy="7.75">&lt;M&gt;</tspan><tspan x="1058" dy="7.75">&lt;M&gt;</tspan><tspan x="1058" dy="7.75">&lt;M&gt;</tspan><tspan x="1058" dy="7.75">&lt;M&gt;</tspan><tspan x="1058" dy="7.75">&lt;M&gt;</tspan><tspan x="1058" dy="7.75">&lt;M&gt;</tspan><tspan x="1058" dy="7.75">&lt;M&gt;</tspan><tspan x="1058" dy="7.75">&lt;M&gt;</tspan><tspan x="1058" dy="7.75">&lt;M&gt;</tspan><tspan x="1058" dy="7.75">&lt;M&gt;</tspan><tspan x="1058" dy="7.75">&lt;M&gt;</tspan><tspan x="1058" dy="7.75">&lt;M&gt;</tspan><tspan x="1058" dy="7.75">&lt;M&gt;</tspan><tspan x="1058" dy="7.75">&lt;M&gt;</tspan><tspan x="1058" dy="7.75">&lt;M&gt;</tspan><tspan x="1058" dy="7.75">&lt;M&gt;</tspan><tspan x="1058" dy="7.75">&lt;M&gt;</tspan><tspan x="1058" dy="7.75">&lt;M&gt;</tspan><tspan x="1058" dy="7.75">&lt;M&gt;</tspan><tspan x="1058" dy="7.75">&lt;M&gt;</tspan><tspan x="1058" dy="7.75">&lt;M&gt;</tspan><tspan x="1058" dy="7.75">&lt;M&gt;</tspan><tspan x="1058" dy="7.75">&lt;M&gt;</tspan><tspan x="1058" dy="7.75">&lt;M&gt;</tspan><tspan x="1058" dy="7.75">&lt;M&gt;</tspan><tspan x="1058" dy="7.75">&lt;M&gt;</tspan><tspan x="1058" dy="7.75">&lt;M&gt;</tspan><tspan x="1058" dy="7.75">&lt;M&gt;</tspan><tspan x="1058" dy="7.75">&lt;M&gt;</tspan><tspan x="1058" dy="7.75">&lt;M&gt;</tspan><tspan x="1058" dy="7.75">&lt;M&gt;</tspan><tspan x="1058" dy="7.75">&lt;M&gt;</tspan><tspan x="1058" dy="7.75">&lt;M&gt;</tspan><tspan x="1058" dy="7.75">&lt;M&gt;</tspan><tspan x="1058" dy="7.75">&lt;M&gt;</tspan><tspan x="1058" dy="7.75">&lt;M&gt;</tspan><tspan x="1058" dy="7.75">&lt;M&gt;</tspan><tspan x="1058" dy="7.75">&lt;M&gt;</tspan><tspan x="1058" dy="7.75">&lt;M&gt;</tspan><tspan x="1058" dy="7.75">&lt;M&gt;</tspan><tspan x="1058" dy="7.75">&lt;M&gt;</tspan><tspan x="1058" dy="7.75">&lt;M&gt;</tspan><tspan x="1058" dy="7.75">&lt;M&gt;</tspan><tspan x="1058" dy="7.75">&lt;M&gt;</tspan><tspan x="1058" dy="7.75">&lt;M&gt;</tspan><tspan x="1058" dy="7.75">&lt;M&gt;</tspan><tspan x="1058" dy="7.75">&lt;M&gt;</tspan><tspan x="1058" dy="7.75">&lt;M&gt;</tspan><tspan x="1058" dy="7.75">&lt;M&gt;</tspan><tspan x="1058" dy="7.75">&lt;M&gt;</tspan><tspan x="1058" dy="7.75">&lt;M&gt;</tspan><tspan x="1058" dy="7.75">&lt;M&gt;</tspan><tspan x="1058" dy="7.75">&lt;M&gt;</tspan><tspan x="1058" dy="7.75">&lt;M&gt;</tspan><tspan x="1058" dy="7.75">&lt;M&gt;</tspan><tspan x="1058" dy="7.75">&lt;M&gt;</tspan><tspan x="1058" dy="7.75">&lt;M&gt;</tspan><tspan x="1058" dy="7.75">&lt;M&gt;</tspan><tspan x="1058" dy="7.75">&lt;M&gt;</tspan><tspan x="1058" dy="7.75">&lt;M&gt;</tspan><tspan x="1058" dy="7.75">&lt;M&gt;</tspan><tspan x="1058" dy="7.75">&lt;M&gt;</tspan></text>
</g>

<g id="caption">
<text class="cap" x="20" y="948" word-spacing="17" textLength="1106" lengthAdjust="spacing">Figura 27. Detalle del modelo conceptual de base de datos creado en la</text>
<text class="cap" x="20" y="995" word-spacing="15" textLength="1106" lengthAdjust="spacing">herramienta Power Designer 12. (Para mayor detalle del contenido verificar el</text>
<text class="cap" x="20" y="1043">modelo en anexos).</text>
</g>
</svg>
